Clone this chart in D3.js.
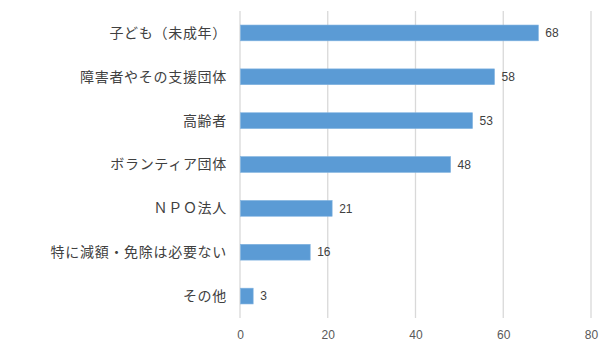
<!DOCTYPE html>
<html><head><meta charset="utf-8">
<script src="https://cdn.jsdelivr.net/npm/d3@7"></script>
<style>body{margin:0;background:#fff;} svg{display:block;}</style>
</head><body>
<svg id="c" width="614" height="352"></svg>
<script>
const categories = ["子ども（未成年）","障害者やその支援団体","高齢者","ボランティア団体","ＮＰＯ法人","特に減額・免除は必要ない","その他"];
const values = [68,58,53,48,21,16,3];
const ticks = [0,20,40,60,80];

const svg = d3.select("#c");
const m = {left:240, right:23, top:11, bottom:34};
const W = 614, H = 352;
const x = d3.scaleLinear().domain([0,80]).range([m.left, W - m.right]);
const y = d3.scaleBand().domain(categories).range([m.top, H - m.bottom]).paddingInner(0.64).paddingOuter(0.32);

svg.append("g").selectAll("line").data(ticks).join("line")
  .attr("x1", d=>x(d)).attr("x2", d=>x(d))
  .attr("y1", m.top).attr("y2", H - m.bottom)
  .attr("stroke", "#d9d9d9").attr("stroke-width", 1.3);

svg.append("g").selectAll("rect").data(values).join("rect")
  .attr("x", x(0)+0.5).attr("y", (d,i)=>y(categories[i]))
  .attr("width", d=>x(d)-x(0)-0.5).attr("height", y.bandwidth())
  .attr("fill", "#5b9bd5").attr("stroke", "#7fb2e0").attr("stroke-width", 0.6);

svg.append("g").selectAll("text").data(values).join("text")
  .attr("x", d=>x(d)+7).attr("y", (d,i)=>y(categories[i])+y.bandwidth()/2)
  .attr("dy", "0.35em").attr("font-family", "Liberation Sans, Arial, sans-serif")
  .attr("font-size", 12).attr("fill", "#404040").text(d=>d);

svg.append("g").selectAll("text").data(categories).join("text")
  .attr("x", 227).attr("y", d=>y(d)+y.bandwidth()/2)
  .attr("dy", "0.35em").attr("text-anchor", "end")
  .attr("font-family", "Noto Sans CJK JP").attr("font-size", 14).attr("letter-spacing", "0.7px")
  .attr("fill", "#404040").text(d=>d);

const xa = d3.axisBottom(x).tickValues(ticks).tickSize(0).tickPadding(0);
const g = svg.append("g").attr("transform", `translate(0,${H-m.bottom+12})`).call(xa);
g.select(".domain").remove();
g.selectAll("text").attr("font-family", "Liberation Sans, Arial, sans-serif").attr("font-size", 12).attr("fill", "#595959");
</script>
</body></html>
